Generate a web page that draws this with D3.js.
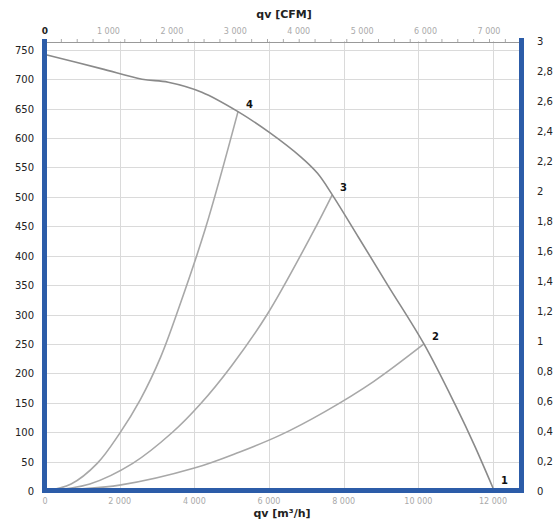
<!DOCTYPE html>
<html>
<head>
<meta charset="utf-8">
<script src="https://cdn.jsdelivr.net/npm/d3@7"></script>
<style>
  body { margin: 0; background: #fff; }
  svg { font-family: "DejaVu Sans", sans-serif; }
</style>
</head>
<body>
<div id="chart"></div>
<script>
// fan curve, qv [m3/h] vs pressure [Pa]
var fanFlow  = [0, 1500, 2600, 3300, 4200, 5170, 6000, 6850, 7300, 7700, 8400, 9200, 10150, 11000, 11500, 12000];
var fanPress = [742, 718, 700, 695, 678, 645, 610, 568, 540, 503, 431, 348, 250, 145, 78, 5];

// system curves through the operating points
var sys4Flow  = [0, 700, 1400, 2000, 2550, 3100, 3600, 4300, 5170];
var sys4Press = [0, 12, 47, 98, 155, 228, 314, 447, 645];
var sys3Flow  = [0, 1200, 2350, 3400, 4150, 5000, 5950, 7180, 7690];
var sys3Press = [0, 12, 47, 99, 147, 213, 300, 440, 503];
var sys2Flow  = [0, 2000, 4000, 5200, 6300, 7500, 8800, 10150];
var sys2Press = [0, 10, 39, 66, 95, 135, 186, 250];

var pointIds   = ["1", "2", "3", "4"];
var pointFlow  = [12000, 10150, 7690, 5170];
var pointPress = [5, 250, 503, 645];

var bottomTicks = [0, 2000, 4000, 6000, 8000, 10000, 12000];
var topTicks    = [0, 1000, 2000, 3000, 4000, 5000, 6000, 7000];
var leftTicks   = d3.range(0, 751, 50);
var rightTicks  = [0, 0.2, 0.4, 0.6, 0.8, 1, 1.2, 1.4, 1.6, 1.8, 2, 2.2, 2.4, 2.6, 2.8, 3];

var width = 556, height = 521;
var pLeft = 45, pRight = 521, pTop = 41, pBottom = 491;
var blue = "#2c5ca8";

var svg = d3.select("#chart").append("svg")
  .attr("width", width).attr("height", height);

var x = d3.scaleLinear().domain([0, 12750]).range([pLeft, pRight]);
var xCfm = d3.scaleLinear().domain([0, 12750 / 1.699]).range([pLeft, pRight]);
var y = d3.scaleLinear().domain([0, 765]).range([pBottom, pTop]);
var yR = d3.scaleLinear().domain([0, 3]).range([pBottom, pTop]);

var fmtSpace = function(v) { return d3.format(",")(v).replace(/,/g, " "); };
var fmtComma = function(v) { return String(v).replace(".", ","); };

// grid
var grid = svg.append("g").attr("stroke", "#dadada").attr("stroke-width", 1);
grid.selectAll("line.h")
  .data(leftTicks.filter(function(d) { return d > 0; }))
  .enter().append("line")
  .attr("x1", pLeft).attr("x2", pRight)
  .attr("y1", function(d) { return Math.round(y(d)) + 0.5; })
  .attr("y2", function(d) { return Math.round(y(d)) + 0.5; });
grid.selectAll("line.v")
  .data(bottomTicks.filter(function(d) { return d > 0; }))
  .enter().append("line")
  .attr("y1", pTop).attr("y2", pBottom)
  .attr("x1", function(d) { return Math.round(x(d)) + 0.5; })
  .attr("x2", function(d) { return Math.round(x(d)) + 0.5; });

// top thin axis line with small ticks
var topAxis = svg.append("g").attr("transform", "translate(0," + (pTop + 1) + ")");
topAxis.call(d3.axisTop(xCfm).tickValues(d3.range(0, 7501, 250)).tickSize(3).tickFormat(""))
  .call(function(g) { g.select(".domain").attr("stroke", "#999"); g.selectAll(".tick line").attr("stroke", "#aaa"); });

// curves
var line = d3.line()
  .x(function(d) { return x(d[0]); })
  .y(function(d) { return y(d[1]); })
  .curve(d3.curveCatmullRom.alpha(0.5));

function pairs(a, b) { return a.map(function(v, i) { return [v, b[i]]; }); }

var curves = [
  { data: pairs(sys4Flow, sys4Press), col: "#a8a8a8" },
  { data: pairs(sys3Flow, sys3Press), col: "#a8a8a8" },
  { data: pairs(sys2Flow, sys2Press), col: "#a8a8a8" },
  { data: pairs(fanFlow, fanPress), col: "#8a8a8a" }
];
svg.append("g").selectAll("path")
  .data(curves)
  .enter().append("path")
  .attr("d", function(d) { return line(d.data); })
  .attr("fill", "none")
  .attr("stroke", function(d) { return d.col; })
  .attr("stroke-width", 1.6);

// operating point labels
svg.append("g").selectAll("text")
  .data(pointIds)
  .enter().append("text")
  .attr("x", function(d, i) { return x(pointFlow[i]) + 8; })
  .attr("y", function(d, i) { return y(pointPress[i]) - 4; })
  .attr("font-size", 10).attr("font-weight", "bold").attr("fill", "#111")
  .text(function(d) { return d; });

// blue frame
var frame = svg.append("g").attr("fill", blue);
frame.append("rect").attr("x", pLeft - 3).attr("y", pTop - 2).attr("width", 5).attr("height", pBottom - pTop + 4);
frame.append("rect").attr("x", pRight - 2).attr("y", pTop - 3).attr("width", 5).attr("height", pBottom - pTop + 5);
frame.append("rect").attr("x", pLeft - 3).attr("y", pBottom - 3).attr("width", pRight - pLeft + 6).attr("height", 5);

// left labels (Pa)
svg.append("g").selectAll("text")
  .data(leftTicks)
  .enter().append("text")
  .attr("x", 34).attr("y", function(d) { return y(d) + 4; })
  .attr("text-anchor", "end").attr("font-size", 10).attr("fill", "#222")
  .text(function(d) { return d; });

// right labels
svg.append("g").selectAll("text")
  .data(rightTicks)
  .enter().append("text")
  .attr("x", 537).attr("y", function(d) { return yR(d) + 4; })
  .attr("font-size", 10).attr("fill", "#222")
  .text(fmtComma);

// bottom labels (m3/h)
svg.append("g").selectAll("text")
  .data(bottomTicks)
  .enter().append("text")
  .attr("x", function(d) { return x(d); }).attr("y", 504)
  .attr("text-anchor", "middle").attr("font-size", 8).attr("fill", "#aaa")
  .text(fmtSpace);

// top labels (CFM)
svg.append("g").selectAll("text")
  .data(topTicks)
  .enter().append("text")
  .attr("x", function(d) { return xCfm(d); }).attr("y", 34)
  .attr("text-anchor", "middle")
  .attr("font-size", function(d) { return d === 0 ? 9 : 8; })
  .attr("font-weight", function(d) { return d === 0 ? "bold" : "normal"; })
  .attr("fill", function(d) { return d === 0 ? "#222" : "#aaa"; })
  .text(fmtSpace);

// axis titles
svg.append("text").attr("x", 284).attr("y", 18).attr("text-anchor", "middle")
  .attr("font-size", 11).attr("font-weight", "bold").attr("fill", "#222")
  .text("qv [CFM]");
svg.append("text").attr("x", 282).attr("y", 517).attr("text-anchor", "middle")
  .attr("font-size", 11).attr("font-weight", "bold").attr("fill", "#222")
  .text("qv [m³/h]");
</script>
</body>
</html>
